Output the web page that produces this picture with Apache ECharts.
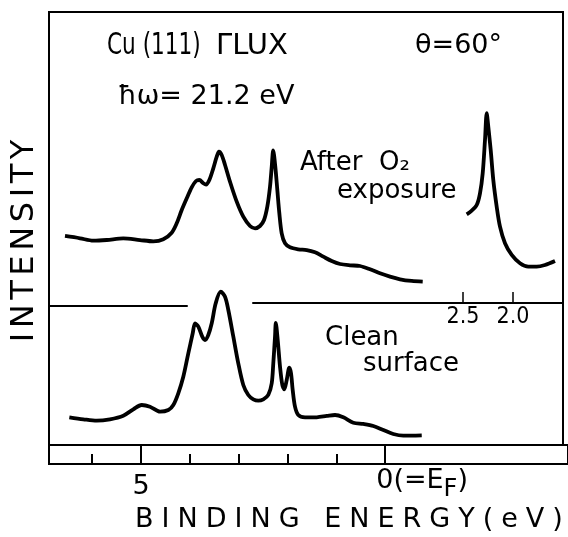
<!DOCTYPE html>
<html><head><meta charset="utf-8">
<script src="https://cdn.jsdelivr.net/npm/echarts@6/dist/echarts.min.js"></script>
<style>html,body{margin:0;padding:0;background:#fff}#c{width:568px;height:537px}</style>
</head><body><div id="c"></div>
<script>
// Binding energy (eV) and intensity (arb. units)
const upperE = [6.558,6.253,5.982,5.709,5.371,5.031,4.760,4.556,4.385,4.283,4.181,4.079,3.978,3.890,3.823,3.741,3.686,3.619,3.538,3.468,3.422,3.367,3.299,3.198,3.061,2.927,2.790,2.688,2.587,2.505,2.438,2.383,2.348,2.318,2.275,2.234,2.193,2.145,2.077,1.976,1.807,1.635,1.466,1.297,1.126,0.957,0.754,0.550,0.346,0.143,-0.061,-0.265,-0.503,-0.727];
const upperI = [48.27,47.74,47.18,47.34,47.74,47.34,47.04,47.51,49.03,51.20,54.27,56.97,59.52,60.97,61.20,60.44,60.12,61.20,63.90,66.58,67.74,66.97,64.67,60.81,56.19,52.73,50.58,50.05,50.58,51.96,55.04,59.65,64.27,68.06,64.27,58.89,53.51,48.89,46.58,45.66,45.20,45.03,44.50,43.49,42.49,41.80,41.50,41.34,40.58,39.65,38.87,38.27,37.88,37.71];
const lowerE = [6.470,6.185,5.912,5.642,5.371,5.167,4.996,4.827,4.623,4.454,4.352,4.251,4.149,4.047,3.957,3.910,3.843,3.762,3.707,3.640,3.570,3.489,3.387,3.299,3.232,3.130,3.029,2.927,2.825,2.723,2.621,2.519,2.418,2.348,2.316,2.281,2.265,2.226,2.179,2.132,2.092,2.043,1.990,1.955,1.921,1.874,1.807,1.670,1.432,1.228,1.059,0.890,0.686,0.483,0.279,0.075,-0.128,-0.332,-0.707];
const lowerI = [6.40,5.94,5.61,5.94,6.77,8.24,9.24,8.85,7.69,8.08,9.24,11.94,15.77,21.18,25.80,28.11,27.32,25.01,24.25,25.40,28.11,32.72,35.40,34.25,31.18,25.01,18.87,13.86,11.55,10.55,10.23,10.55,11.55,14.25,18.87,25.01,28.18,24.25,18.08,13.86,12.86,15.01,17.85,16.56,12.70,8.85,6.93,6.40,6.40,6.70,6.93,6.40,5.15,4.85,4.39,3.46,2.54,2.15,2.24];
const insetE = [2.463,2.413,2.363,2.330,2.303,2.280,2.263,2.247,2.223,2.197,2.163,2.130,2.080,2.013,1.930,1.847,1.763,1.680,1.580];
const insetI = [53.28,54.11,55.43,58.13,62.75,70.44,76.61,73.51,68.13,61.20,55.03,50.42,46.58,43.88,41.96,41.18,41.18,41.57,42.49];
const majorTicks = [5, 0];
const minorTicks = [6, 4, 3, 2, 1];
const majorLabels = [5];
const zeroLabel = [0];
const insetTicks = [2.5, 2.0];

const FONT = 'DejaVu Sans';
const zip = (a, b) => a.map((v, i) => [v, b[i]]);
const spaced = s => s.split('').map(c => '{c|' + c + '}').join('');

const chart = echarts.init(document.getElementById('c'), null, {renderer: 'canvas'});
const hiddenY = i => ({gridIndex: i, type: 'value', show: false});
const lineSeries = (name, xi, yi, data) => ({
  name, type: 'line', xAxisIndex: xi, yAxisIndex: yi, data,
  showSymbol: false, smooth: 0.3, silent: true,
  lineStyle: {color: '#000', width: 3.8}, itemStyle: {color: '#000'}
});
const txt = (x, y, text, size, extra) => Object.assign({type: 'text', x, y,
  style: {text, fontFamily: FONT, fontSize: size, fill: '#000', align: 'left', verticalAlign: 'middle'}}, extra || {});

chart.setOption({
  animation: false,
  backgroundColor: '#fff',
  grid: [
    {left: 49, top: 12, width: 514, height: 433, show: true, borderColor: '#000', borderWidth: 2},
    {left: 253, top: 12, width: 310, height: 291},
    {left: 49, top: 296, width: 138, height: 10},
    {left: 49, top: 445, width: 522, height: 19, show: true, borderColor: '#000', borderWidth: 2},
    {left: 49, top: 445, width: 522, height: 19}
  ],
  xAxis: [
    {gridIndex: 0, type: 'value', min: -3.584, max: 6.884, inverse: true, show: false},
    {gridIndex: 1, type: 'value', min: 1.5, max: 4.6, inverse: true,
      axisLine: {show: true, onZero: false, lineStyle: {color: '#000', width: 2}},
      axisTick: {show: true, inside: true, length: 11, customValues: insetTicks, lineStyle: {color: '#000', width: 1.5}},
      axisLabel: {show: true, customValues: insetTicks, formatter: v => Number(v).toFixed(1), color: '#000', fontFamily: 'DejaVu Sans Condensed', fontSize: 23, margin: 3},
      splitLine: {show: false}},
    {gridIndex: 2, type: 'value', min: 0, max: 1,
      axisLine: {show: true, onZero: false, lineStyle: {color: '#000', width: 2}},
      axisTick: {show: false}, axisLabel: {show: false}, splitLine: {show: false}},
    {gridIndex: 3, type: 'value', min: -3.747, max: 6.884, inverse: true,
      axisLine: {show: false},
      axisTick: {show: true, inside: true, length: 19, customValues: majorTicks, lineStyle: {color: '#000', width: 2}},
      axisLabel: {show: true, customValues: majorLabels, formatter: v => String(v), color: '#000', fontFamily: FONT, fontSize: 27, margin: 9},
      splitLine: {show: false}},
    {gridIndex: 4, type: 'value', min: -3.747, max: 6.884, inverse: true,
      axisLine: {show: false},
      axisTick: {show: true, inside: true, length: 10, customValues: minorTicks, lineStyle: {color: '#000', width: 2}},
      axisLabel: {show: true, customValues: zeroLabel,
        formatter: () => '{p| }{n|0}{n|(=E}{s|F}{n|)}',
        margin: 3,
        rich: {
          p: {width: 74, fontSize: 27, fontFamily: FONT, lineHeight: 30, verticalAlign: 'top'},
          n: {fontSize: 27, fontFamily: FONT, color: '#000', lineHeight: 30, verticalAlign: 'top'},
          s: {fontSize: 24, fontFamily: FONT, color: '#000', lineHeight: 24, padding: [11, 0, 0, 0], verticalAlign: 'top'}
        }},
      splitLine: {show: false}}
  ],
  yAxis: [
    {gridIndex: 0, type: 'value', min: 0, max: 100, show: false},
    {gridIndex: 1, type: 'value', min: 32.79, max: 100, show: false},
    hiddenY(2), hiddenY(3), hiddenY(4)
  ],
  series: [
    lineSeries('After O2 exposure', 0, 0, zip(upperE, upperI)),
    lineSeries('Clean surface', 0, 0, zip(lowerE, lowerI)),
    lineSeries('After O2 exposure (expanded)', 1, 1, zip(insetE, insetI))
  ],
  graphic: {elements: [
    txt(107, 46, 'Cu (111)', 30, {scaleX: 0.72}),
    txt(216, 46, 'ΓLUX', 29),
    txt(415, 46, 'θ=60°', 27),
    txt(118, 97, 'ħω= 21.2 eV', 27),
    txt(300, 163, 'After  O₂', 26),
    txt(337, 191, 'exposure', 26),
    txt(325, 338, 'Clean', 26),
    txt(363, 364, 'surface', 26),
    {type: 'text', x: 25, y: 241, rotation: Math.PI / 2,
      style: {text: spaced('INTENSITY'), align: 'center', verticalAlign: 'middle',
        rich: {c: {fontFamily: FONT, fontSize: 32, fill: '#000', padding: [0, 2.3, 0, 2.3]}}}},
    {type: 'text', x: 131, y: 520,
      style: {text: spaced('BINDING ENERGY(eV)'), align: 'left', verticalAlign: 'middle',
        rich: {c: {fontFamily: FONT, fontSize: 27, fill: '#000', padding: [0, 4, 0, 4]}}}}
  ]}
});
</script></body></html>
